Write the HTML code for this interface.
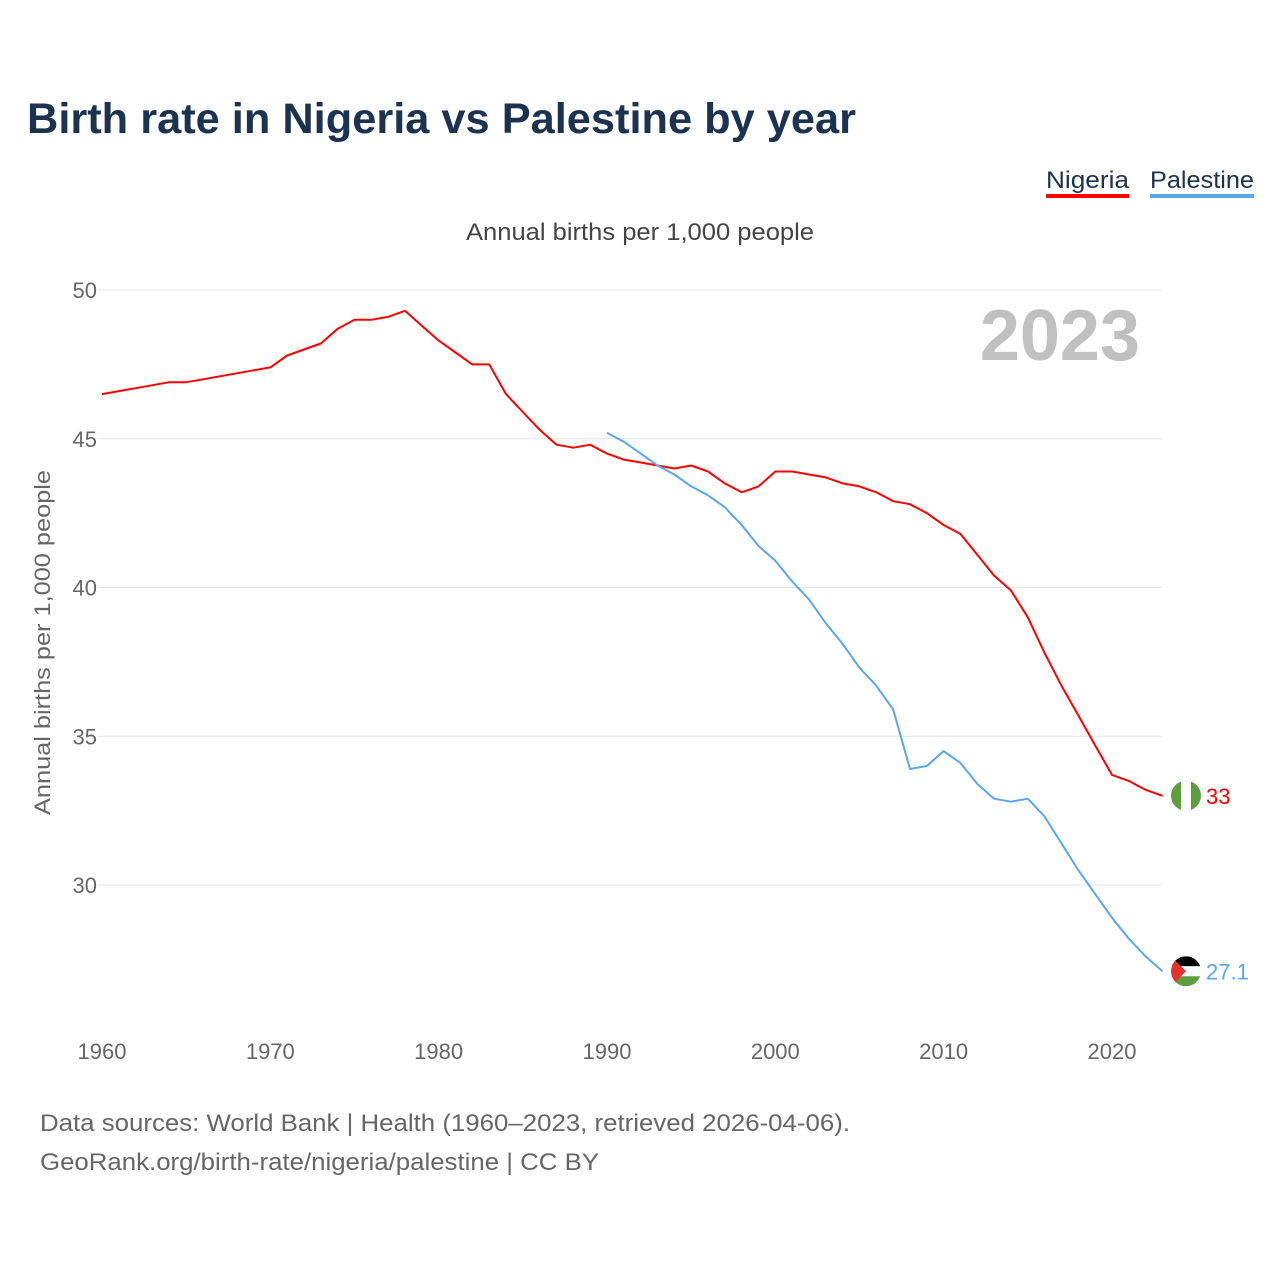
<!DOCTYPE html>
<html><head><meta charset="utf-8">
<style>
body{margin:0;background:#fff;font-family:"Liberation Sans",sans-serif;}
#wrap{position:relative;width:1280px;height:1280px;overflow:hidden;}
</style></head>
<body>
<div id="wrap">
<svg id="chart" width="1280" height="1280" font-family="Liberation Sans, sans-serif">
  <text x="27" y="133" font-size="43" font-weight="bold" fill="#1b3250" textLength="829" lengthAdjust="spacingAndGlyphs">Birth rate in Nigeria vs Palestine by year</text>
  <g>
    <text x="1046" y="188" font-size="24" fill="#1b3250" textLength="83" lengthAdjust="spacingAndGlyphs">Nigeria</text>
    <rect x="1046" y="194" width="83" height="4" fill="#ff0000"/>
  </g>
  <g>
    <text x="1150" y="188" font-size="24" fill="#1b3250" textLength="104" lengthAdjust="spacingAndGlyphs">Palestine</text>
    <rect x="1150" y="194" width="104" height="4" fill="#5aa7ee"/>
  </g>
  <text x="466" y="240" font-size="24" fill="#444" textLength="348" lengthAdjust="spacingAndGlyphs">Annual births per 1,000 people</text>
  <text x="1140" y="360" font-size="72" font-weight="bold" fill="#c0c0c0" text-anchor="end">2023</text>
  <text transform="translate(50,815) rotate(-90)" font-size="22" fill="#666" textLength="345" lengthAdjust="spacingAndGlyphs">Annual births per 1,000 people</text>
  <g id="grid"></g><g id="lines"></g><g id="ends"></g>
  <text x="40" y="1131" font-size="24" fill="#666" textLength="810" lengthAdjust="spacingAndGlyphs">Data sources: World Bank | Health (1960–2023, retrieved 2026-04-06).</text>
  <text x="40" y="1170" font-size="24" fill="#666" textLength="559" lengthAdjust="spacingAndGlyphs">GeoRank.org/birth-rate/nigeria/palestine | CC BY</text>
</svg>
</div>
<script>
const nigeriaYears=[];for(let y=1960;y<=2023;y++)nigeriaYears.push(y);
const nigeriaValues=[46.5,46.6,46.7,46.8,46.9,46.9,47.0,47.1,47.2,47.3,47.4,47.8,48.0,48.2,48.7,49.0,49.0,49.1,49.3,48.8,48.3,47.9,47.5,47.5,46.5,45.9,45.3,44.8,44.7,44.8,44.5,44.3,44.2,44.1,44.0,44.1,43.9,43.5,43.2,43.4,43.9,43.9,43.8,43.7,43.5,43.4,43.2,42.9,42.8,42.5,42.1,41.8,41.1,40.4,39.9,39.0,37.8,36.7,35.7,34.7,33.7,33.5,33.2,33.0];
const palestineYears=[];for(let y=1990;y<=2023;y++)palestineYears.push(y);
const palestineValues=[45.2,44.9,44.5,44.1,43.8,43.4,43.1,42.7,42.1,41.4,40.9,40.2,39.6,38.8,38.1,37.3,36.7,35.9,33.9,34.0,34.5,34.1,33.4,32.9,32.8,32.9,32.3,31.4,30.5,29.7,28.9,28.2,27.6,27.1];
const yTicks=[30,35,40,45,50];
const xTicks=[1960,1970,1980,1990,2000,2010,2020];
const NS="http://www.w3.org/2000/svg";
const xs=y=>102+(y-1960)*16.833;
const ys=v=>290+(50-v)*29.75;
function mk(tag,attrs,parent){const e=document.createElementNS(NS,tag);for(const k in attrs)e.setAttribute(k,attrs[k]);parent.appendChild(e);return e;}
const grid=document.getElementById('grid');
yTicks.forEach(t=>{
  const l=mk('line',{x1:98,x2:1162,y1:ys(t),y2:ys(t),stroke:'#e6e6e6','stroke-width':1},grid);
  
  
  const tx=mk('text',{x:97,y:ys(t)+8,'font-size':22,fill:'#666','text-anchor':'end'},grid);
  tx.textContent=t;
  
  
});
xTicks.forEach(t=>{
  const tx=mk('text',{x:xs(t),y:1059,'font-size':22,fill:'#666','text-anchor':'middle'},grid);
  tx.textContent=t;
  
  
});
const lines=document.getElementById('lines');
function series(years,vals,color,name){
  const d=years.map((y,i)=>(i?'L':'M')+xs(y).toFixed(1)+','+ys(vals[i]).toFixed(1)).join('');
  const p=mk('path',{d:d,fill:'none',stroke:color,'stroke-width':2,'stroke-linejoin':'round'},lines);
  
  
}
series(nigeriaYears,nigeriaValues,'#ff0000','nigeria-line');
series(palestineYears,palestineValues,'#5aa7ee','palestine-line');
const ends=document.getElementById('ends');
const nv=nigeriaValues[nigeriaValues.length-1], ny=ys(nv);
const ng=mk('g',{},ends);


const cn=mk('clipPath',{id:'cn'},ng);mk('circle',{cx:1186,cy:ny,r:15},cn);
mk('rect',{x:1171,y:ny-15,width:30,height:30,fill:'#5d9e3e','clip-path':'url(#cn)'},ng);
mk('rect',{x:1181,y:ny-15,width:10,height:30,fill:'#fff','clip-path':'url(#cn)'},ng);
const nt=mk('text',{x:1206,y:ny+8,'font-size':22,fill:'#ff0000'},ends);nt.textContent=nv;


const pv=palestineValues[palestineValues.length-1], py=ys(pv);
const pg=mk('g',{},ends);


const cp=mk('clipPath',{id:'cp'},pg);mk('circle',{cx:1186,cy:py,r:15},cp);
mk('rect',{x:1171,y:py-15,width:30,height:10,fill:'#000','clip-path':'url(#cp)'},pg);
mk('rect',{x:1171,y:py-5,width:30,height:10,fill:'#fff','clip-path':'url(#cp)'},pg);
mk('rect',{x:1171,y:py+5,width:30,height:10,fill:'#5d9e3e','clip-path':'url(#cp)'},pg);
mk('polygon',{points:`1171,${py-15} 1186,${py} 1171,${py+15}`,fill:'#e4312b','clip-path':'url(#cp)'},pg);
const pt=mk('text',{x:1206,y:py+8,'font-size':22,fill:'#5aa7ee'},ends);pt.textContent=pv;


</script>
</body></html>
